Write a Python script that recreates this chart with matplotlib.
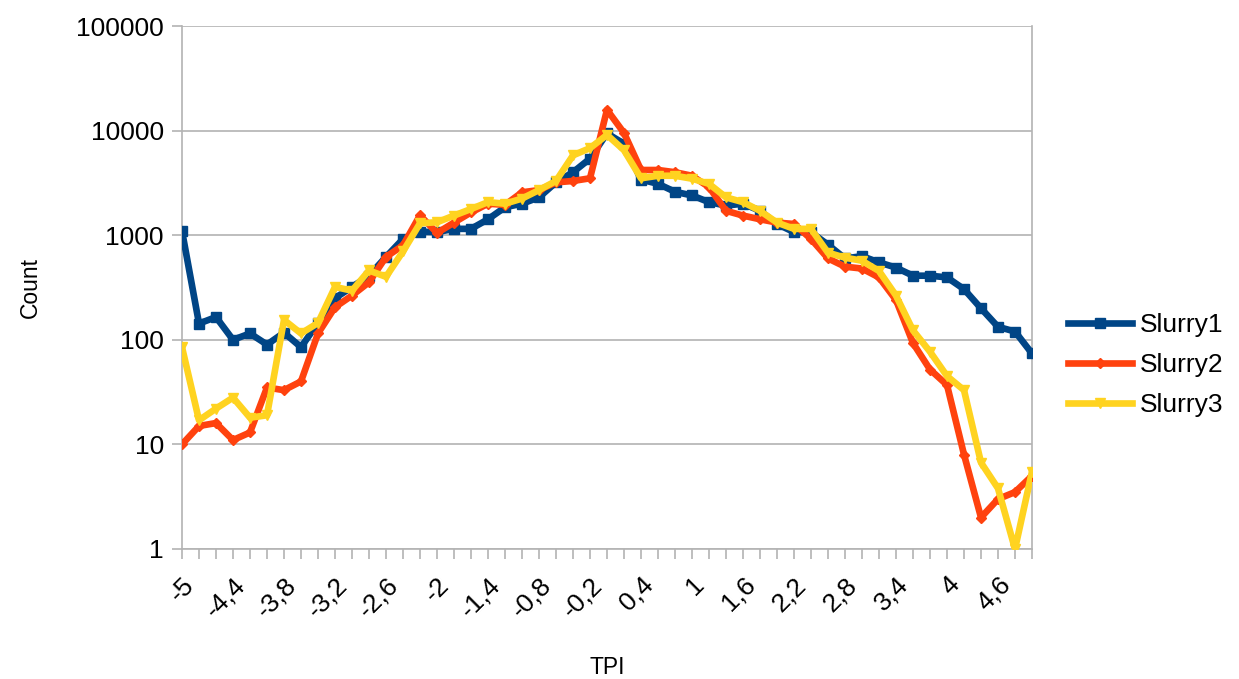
import matplotlib
matplotlib.use("Agg")
import matplotlib.pyplot as plt

tpi = [-5.0, -4.8, -4.6, -4.4, -4.2, -4.0, -3.8, -3.6, -3.4, -3.2,
       -3.0, -2.8, -2.6, -2.4, -2.2, -2.0, -1.8, -1.6, -1.4, -1.2,
       -1.0, -0.8, -0.6, -0.4, -0.2, 0.0, 0.2, 0.4, 0.6, 0.8,
       1.0, 1.2, 1.4, 1.6, 1.8, 2.0, 2.2, 2.4, 2.6, 2.8,
       3.0, 3.2, 3.4, 3.6, 3.8, 4.0, 4.2, 4.4, 4.6, 4.8, 5.0]

slurry1 = [1100, 143, 165, 100, 115, 90, 117, 85, 145, 250,
           320, 410, 620, 920, 1080, 1070, 1150, 1150, 1420, 1850,
           2000, 2300, 3200, 4000, 5400, 9400, 7500, 3400, 3100, 2600,
           2400, 2070, 1920, 2000, 1710, 1280, 1070, 1070, 810, 600,
           630, 550, 490, 410, 410, 395, 305, 200, 133, 120, 74]

slurry2 = [10, 15, 16, 11, 13, 35, 33, 40, 115, 205,
           265, 355, 620, 800, 1550, 1050, 1320, 1650, 2000, 1950,
           2570, 2700, 3200, 3300, 3500, 15800, 9500, 4200, 4200, 4000,
           3700, 2880, 1710, 1540, 1420, 1320, 1280, 920, 600, 500,
           480, 395, 240, 93, 52, 37, 8, 2, 3, 3.5, 5]

slurry3 = [85, 17, 22, 28, 18, 19, 155, 115, 145, 320,
           295, 460, 400, 700, 1300, 1330, 1540, 1780, 2070, 2000,
           2240, 2700, 3300, 5800, 6800, 9100, 6500, 3500, 3700, 3700,
           3470, 3100, 2300, 2070, 1710, 1320, 1150, 1150, 680, 610,
           570, 455, 265, 123, 77, 45, 33, 6.7, 3.8, 1, 5.5]

plt.rcParams["font.family"] = ["Liberation Sans", "DejaVu Sans"]

fig = plt.figure(figsize=(12.39, 6.79), dpi=100)
ax = fig.add_axes([182/1239, 130/679, 850/1239, 523/679])

x = list(range(len(tpi)))
ax.plot(x, slurry1, "-s", color="#004586", lw=4.8, ms=7, label="Slurry1", zorder=3)
ax.plot(x, slurry2, "-D", color="#ff420e", lw=4.8, ms=5, label="Slurry2", zorder=4)
ax.plot(x, slurry3, "-v", color="#ffd320", lw=4.8, ms=7, label="Slurry3", zorder=5)

ax.set_yscale("log")
ax.set_ylim(1, 100000)
ax.set_xlim(0, len(tpi) - 1)
ax.set_yticks([1, 10, 100, 1000, 10000, 100000])
ax.set_yticklabels(["1", "10", "100", "1000", "10000", "100000"])
ax.minorticks_off()
ax.yaxis.grid(True, color="#b3b3b3", lw=1.2)

labels = [("%g" % v).replace(".", ",") for v in tpi]
ax.set_xticks(x[::3])
ax.set_xticklabels(labels[::3], rotation=45, ha="right", va="top",
                   rotation_mode="anchor")
ax.set_xticks(x, minor=True)
ax.tick_params(axis="x", which="both", length=7, color="#b3b3b3", width=1.2,
               labelsize=19, pad=10)
ax.tick_params(axis="y", length=7, color="#b3b3b3", width=1.2, labelsize=19, pad=6)

for s in ["left", "bottom", "right"]:
    ax.spines[s].set_color("#b3b3b3")
    ax.spines[s].set_linewidth(1.2)
ax.spines["top"].set_visible(False)

ax.set_xlabel("TPI", fontsize=16.5, labelpad=25)
ax.set_ylabel("Count", fontsize=16.5, labelpad=25)

ax.legend(loc="center left", bbox_to_anchor=(1.014, 0.352), frameon=False,
          fontsize=19, handlelength=2.45, labelspacing=0.6, handletextpad=0.3)

fig.savefig("out.png", dpi=100)
